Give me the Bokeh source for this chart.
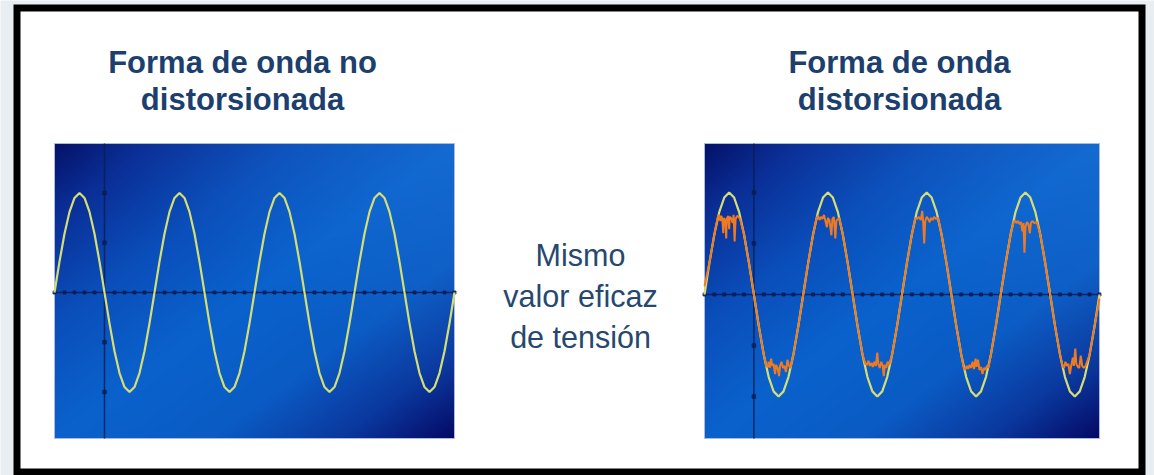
import numpy as np
from bokeh.plotting import figure
from bokeh.models import Range1d
from bokeh.core.properties import value
from bokeh.embed import file_html
from bokeh.resources import INLINE

# ---------------- data ----------------
TITLE_LEFT = ["Forma de onda no", "distorsionada"]
TITLE_RIGHT = ["Forma de onda", "distorsionada"]
MIDDLE_TEXT = ["Mismo", "valor eficaz", "de tensión"]

# time axis (ms) of the clean waveform samples
T_CLEAN = list(range(0, 81))
# clean (undistorted) voltage, per-unit
V_CLEAN = [
    0.00, 0.31, 0.59, 0.81, 0.95, 1.00, 0.95, 0.81, 0.59, 0.31,
    0.00, -0.31, -0.59, -0.81, -0.95, -1.00, -0.95, -0.81, -0.59, -0.31,
    0.00, 0.31, 0.59, 0.81, 0.95, 1.00, 0.95, 0.81, 0.59, 0.31,
    0.00, -0.31, -0.59, -0.81, -0.95, -1.00, -0.95, -0.81, -0.59, -0.31,
    0.00, 0.31, 0.59, 0.81, 0.95, 1.00, 0.95, 0.81, 0.59, 0.31,
    0.00, -0.31, -0.59, -0.81, -0.95, -1.00, -0.95, -0.81, -0.59, -0.31,
    0.00, 0.31, 0.59, 0.81, 0.95, 1.00, 0.95, 0.81, 0.59, 0.31,
    0.00, -0.31, -0.59, -0.81, -0.95, -1.00, -0.95, -0.81, -0.59, -0.31,
    0.00,
]

# distorted voltage trace (time in ms, value per-unit)
T_DIST = [
    0, 1, 2, 2.7, 3.0, 3.2, 3.4, 3.6, 3.8, 3.9, 4.2, 4.4, 4.5, 4.8, 5.0, 5.1, 5.4, 5.7, 5.9, 6.1,
    6.3, 6.6, 6.9, 7.2, 8, 9, 10, 11, 12, 12.5, 12.8, 13.0, 13.2, 13.5, 13.7, 14.0, 14.3, 14.5,
    14.8, 15.1, 15.3, 15.6, 15.9, 16.2, 16.5, 16.8, 17.1, 17.4, 18, 19,
    20, 21, 22, 22.7, 23.0, 23.3, 23.6, 23.9, 24.2, 24.5, 24.8, 25.0, 25.3, 25.7, 25.9, 26.2,
    26.5, 26.7, 27.0, 27.3, 28, 29, 30, 31, 32, 32.6, 32.9, 33.2, 33.5, 33.8, 34.1, 34.4, 34.7,
    35.0, 35.2, 35.5, 35.8, 36.1, 36.3, 36.5, 36.8, 37.1, 37.4, 38, 39,
    40, 41, 42, 42.7, 43.0, 43.4, 43.8, 44.1, 44.3, 44.5, 44.7, 45.0, 45.3, 45.6, 45.9, 46.2,
    46.5, 46.9, 47.3, 48, 49, 50, 51, 52, 52.5, 52.8, 53.1, 53.4, 53.7, 54.0, 54.3, 54.6, 54.9,
    55.1, 55.4, 55.7, 56.0, 56.3, 56.6, 56.9, 57.2, 57.5, 58, 59,
    60, 61, 62, 62.6, 62.9, 63.2, 63.5, 63.8, 64.1, 64.4, 64.6, 64.8, 65.0, 65.3, 65.6, 65.9,
    66.1, 66.4, 66.8, 67.3, 68, 69, 70, 71, 72, 72.5, 72.8, 73.1, 73.4, 73.7, 74.0, 74.3, 74.6,
    74.8, 75.1, 75.3, 75.6, 75.9, 76.2, 76.5, 76.8, 77.2, 78, 79, 80,
]
V_DIST = [
    0.08, 0.31, 0.59, 0.76, 0.78, 0.72, 0.77, 0.74, 0.60, 0.75, 0.73, 0.55, 0.74, 0.77, 0.64, 0.76, 0.75, 0.70, 0.78, 0.52,
    0.74, 0.77, 0.76, 0.74, 0.59, 0.31, 0.00, -0.31, -0.59, -0.70, -0.71, -0.66, -0.72, -0.63, -0.70, -0.68, -0.78, -0.69,
    -0.72, -0.80, -0.70, -0.66, -0.72, -0.70, -0.76, -0.64, -0.70, -0.72, -0.59, -0.31,
    0.00, 0.31, 0.59, 0.75, 0.77, 0.73, 0.76, 0.74, 0.78, 0.72, 0.66, 0.75, 0.73, 0.58, 0.74, 0.76,
    0.55, 0.72, 0.74, 0.75, 0.59, 0.31, 0.00, -0.31, -0.59, -0.68, -0.69, -0.65, -0.70, -0.67, -0.71, -0.66, -0.70,
    -0.57, -0.68, -0.72, -0.66, -0.70, -0.80, -0.69, -0.72, -0.66, -0.69, -0.59, -0.31,
    0.00, 0.31, 0.59, 0.75, 0.74, 0.76, 0.73, 0.82, 0.70, 0.50, 0.72, 0.76, 0.74, 0.71, 0.75, 0.73,
    0.76, 0.74, 0.75, 0.59, 0.31, 0.00, -0.31, -0.59, -0.72, -0.74, -0.70, -0.73, -0.69, -0.72, -0.66, -0.73, -0.63,
    -0.71, -0.64, -0.74, -0.71, -0.78, -0.72, -0.74, -0.70, -0.72, -0.59, -0.31,
    0.00, 0.31, 0.59, 0.71, 0.73, 0.70, 0.72, 0.69, 0.71, 0.62, 0.70, 0.41, 0.66, 0.71, 0.69, 0.60,
    0.70, 0.72, 0.70, 0.71, 0.59, 0.31, 0.00, -0.31, -0.59, -0.70, -0.72, -0.66, -0.70, -0.68, -0.78, -0.69, -0.62,
    -0.70, -0.53, -0.68, -0.71, -0.72, -0.60, -0.70, -0.72, -0.70, -0.59, -0.31, -0.04,
]
assert len(T_DIST) == len(V_DIST)
assert len(T_CLEAN) == len(V_CLEAN)

# scope graticule
AXIS_T = 10                       # position of vertical scope axis (ms)
H_TICKS = list(range(0, 81, 2))   # small tick dots on horizontal axis
V_TICKS = [-1.0, -0.5, 0.5, 1.0]

# ---------------- styles / layout ----------------
FIG_W, FIG_H = 1154, 475
PAGE_OFF = 0
OUTER_BG = "#e9eef3"
TITLE_COLOR = "#1d3f6e"
MID_COLOR = "#26486f"
FONT = "Liberation Sans"
YELLOW = "#d4de74"
ORANGE = "#f07a22"
AXIS_COL = "#0b1d55"

GRAD_POS = [0.0, 0.12, 0.30, 0.50, 0.70, 0.86, 1.0]
GRAD_COL = ["#051268", "#0a2e96", "#0a4eba", "#0a62cc", "#0a5bc4", "#0a389e", "#050a66"]

p = figure(width=FIG_W, height=FIG_H,
           x_range=Range1d(PAGE_OFF, PAGE_OFF + FIG_W),
           y_range=Range1d(PAGE_OFF + FIG_H, PAGE_OFF),
           output_backend="svg", toolbar_location=None,
           x_axis_location=None, y_axis_location=None, min_border=0)
p.grid.visible = False
p.outline_line_color = None
p.background_fill_color = OUTER_BG
p.border_fill_color = OUTER_BG

# black frame with white card
p.quad(left=13, right=1145, top=4, bottom=480, fill_color="black", line_color=None)
p.quad(left=20, right=1138, top=11, bottom=468, fill_color="white", line_color=None)

# titles and middle text
p.text(x=[242, 242], y=[62, 99], text=TITLE_LEFT, text_align="center",
       text_baseline="alphabetic", text_font=value(FONT), text_font_style="bold",
       text_font_size="31px", text_color=TITLE_COLOR)
p.text(x=[899, 899], y=[62, 99], text=TITLE_RIGHT, text_align="center",
       text_baseline="alphabetic", text_font=value(FONT), text_font_style="bold",
       text_font_size="31px", text_color=TITLE_COLOR)
p.text(x=[580, 580, 580], y=[254, 295, 336], text=MIDDLE_TEXT, text_align="center",
       text_baseline="alphabetic", text_font=value(FONT),
       text_font_size="30.5px", text_color=MID_COLOR)


def hex_rgb(c):
    c = c.lstrip("#")
    return [int(c[i:i + 2], 16) for i in (0, 2, 4)]


def gradient(h, w):
    yy, xx = np.mgrid[0:h, 0:w].astype(float)
    ytd = (h - 1 - yy) / (h - 1)     # 0 top, 1 bottom (row 0 is bottom in bokeh)
    xn = xx / (w - 1)
    s = (xn + ytd) / 2
    cols = np.array([hex_rgb(c) for c in GRAD_COL], dtype=float)
    rgb = np.stack([np.interp(s, GRAD_POS, cols[:, k]) for k in range(3)], axis=-1)
    light = 0.12 * np.clip(xn - ytd, 0, None)[..., None]
    rgb = rgb * (1 - light) + np.array([90, 170, 250]) * light
    img = np.empty((h, w), dtype=np.uint32)
    v = img.view(dtype=np.uint8).reshape((h, w, 4))
    v[..., :3] = np.clip(rgb, 0, 255).astype(np.uint8)
    v[..., 3] = 255
    return img


def panel(name, left, top, w, h, t0, t1, v0, v1):
    sx = (t1 - t0) / w
    sy = (v1 - v0) / h
    p.extra_x_ranges[name] = Range1d(t0 + (PAGE_OFF - left) * sx,
                                     t0 + (PAGE_OFF + FIG_W - left) * sx)
    p.extra_y_ranges[name] = Range1d(v1 - (PAGE_OFF + FIG_H - top) * sy,
                                     v1 - (PAGE_OFF - top) * sy)
    kw = dict(x_range_name=name, y_range_name=name)
    p.image_rgba(image=[gradient(h, w)], x=t0, y=v0, dw=t1 - t0, dh=v1 - v0, **kw)
    p.quad(left=t0, right=t1, bottom=v0, top=v1, fill_color=None,
           line_color="#aebbd8", line_width=1, **kw)
    p.segment(x0=[t0, AXIS_T], y0=[0, v0], x1=[t1, AXIS_T], y1=[0, v1],
              line_color=AXIS_COL, line_width=1.5, line_alpha=0.85, **kw)
    p.scatter(x=H_TICKS, y=[0] * len(H_TICKS), marker="square", size=3,
              color=AXIS_COL, alpha=0.8, **kw)
    p.scatter(x=[AXIS_T] * len(V_TICKS), y=V_TICKS, marker="square", size=3.5,
              color=AXIS_COL, alpha=0.8, **kw)
    return kw


kw_l = panel("left", 54, 143, 400, 295, 0, 80, -1.467, 1.497)
p.line(T_CLEAN, V_CLEAN, line_color=YELLOW, line_width=2.2, **kw_l)

kw_r = panel("right", 704, 143, 395, 295, 0, 80, -1.412, 1.480)
p.line(T_CLEAN, V_CLEAN, line_color=YELLOW, line_width=2.2, **kw_r)
p.line(T_DIST, V_DIST, line_color=ORANGE, line_width=2.0, **kw_r)

open("out.html", "w").write(file_html(p, INLINE))
